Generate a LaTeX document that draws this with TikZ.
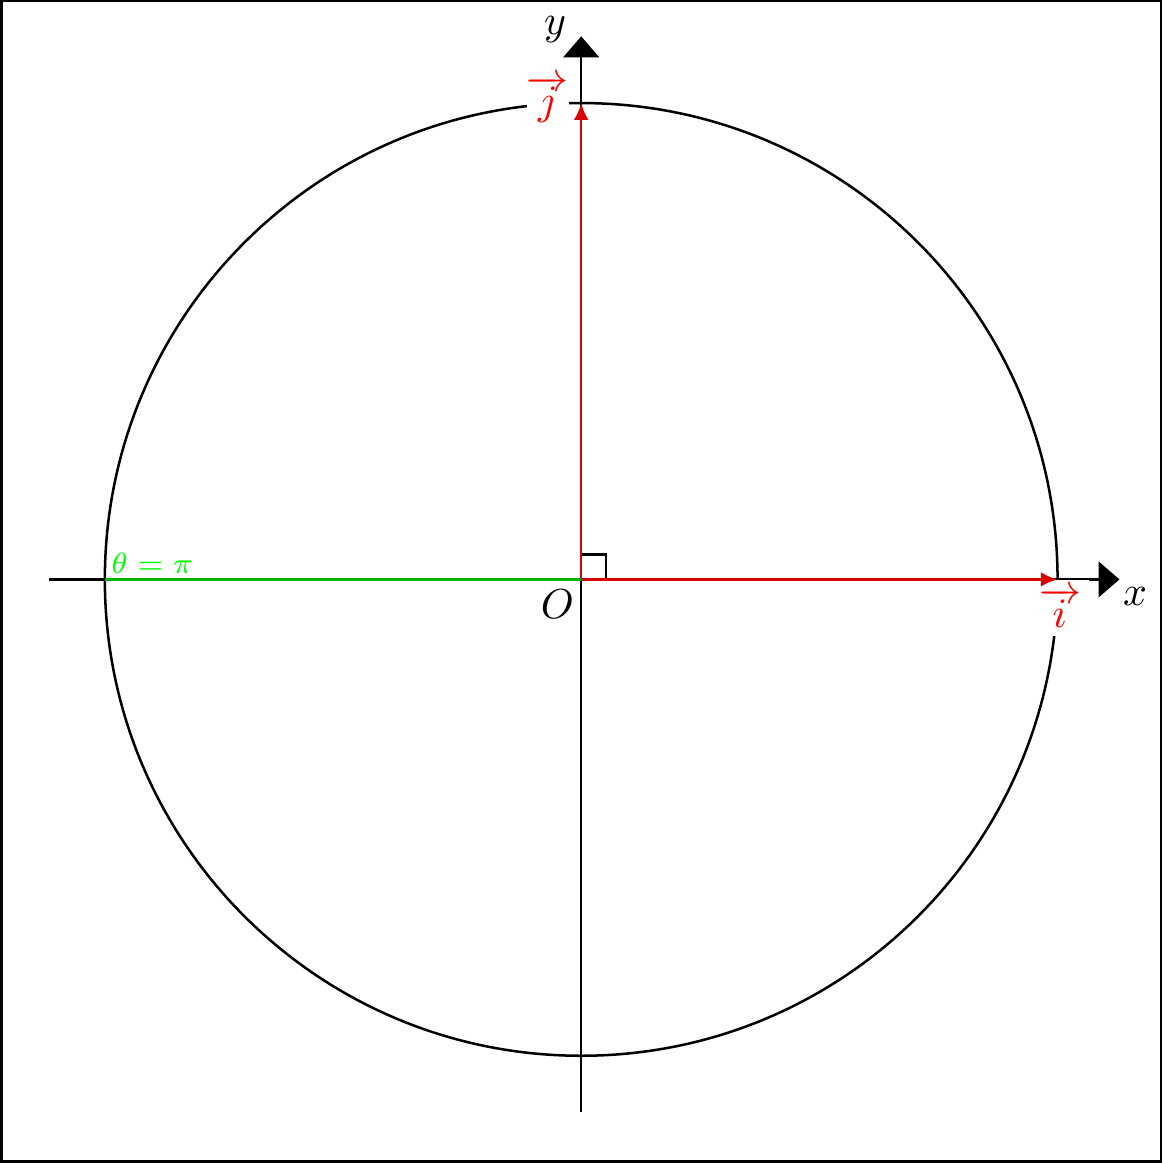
\documentclass[tikz,border=0pt]{standalone}
\usepackage{tikz}
\usetikzlibrary{arrows.meta}

\begin{document}
\begin{tikzpicture}[semithick]

      % frame
      \draw (-4.87,-4.89) rectangle (4.87,4.855);

      \coordinate (O) at (0,0);
      \coordinate (xmin) at (-4.47,0);
      \coordinate (xmax) at (4.52,0);
      \coordinate (ymin) at (0,-4.47);
      \coordinate (ymax) at (0,4.56);
      \coordinate (I) at (4,0);
      \coordinate (J) at (0,4);
      \coordinate (W) at (-4,0);

      \begin{scope}[>={Triangle[length=5pt,width=8.5pt]}]
        \draw [->] (xmin) -- (xmax);
        \draw [->] (ymin) -- (ymax);
      \end{scope}

      \draw (O) circle (4);
      \draw (O) rectangle ++(0.21,0.21);

      \begin{scope}[every node/.style={fill=white,inner sep=1pt}]
        \node (xl) at (4.65,-0.14) {$x$};
        \node (yl) at (-0.22,4.62) {$y$};
        \node (Ol) at (-0.2,-0.21) {$O$};
        \node[text=red,inner sep=2pt] (il) at (4.02,-0.24) {$\overrightarrow{i}$};
        \node[text=red,inner sep=0pt] (jl) at (-0.28,4.03) {$\overrightarrow{j}$};
      \end{scope}

      \begin{scope}[>={Latex[length=4pt,width=3.5pt]},
          every edge/.style={draw=red!85!black,semithick}]
        \path [->] (O) edge (I);
        \path [->] (O) edge (J);
      \end{scope}

      \draw [green!70!black] (W) -- (O)
        node[pos=0,anchor=south west,inner sep=1.2pt,text=green,font=\scriptsize] (th) {$\theta=\pi$};

    \end{tikzpicture}
\end{document}
